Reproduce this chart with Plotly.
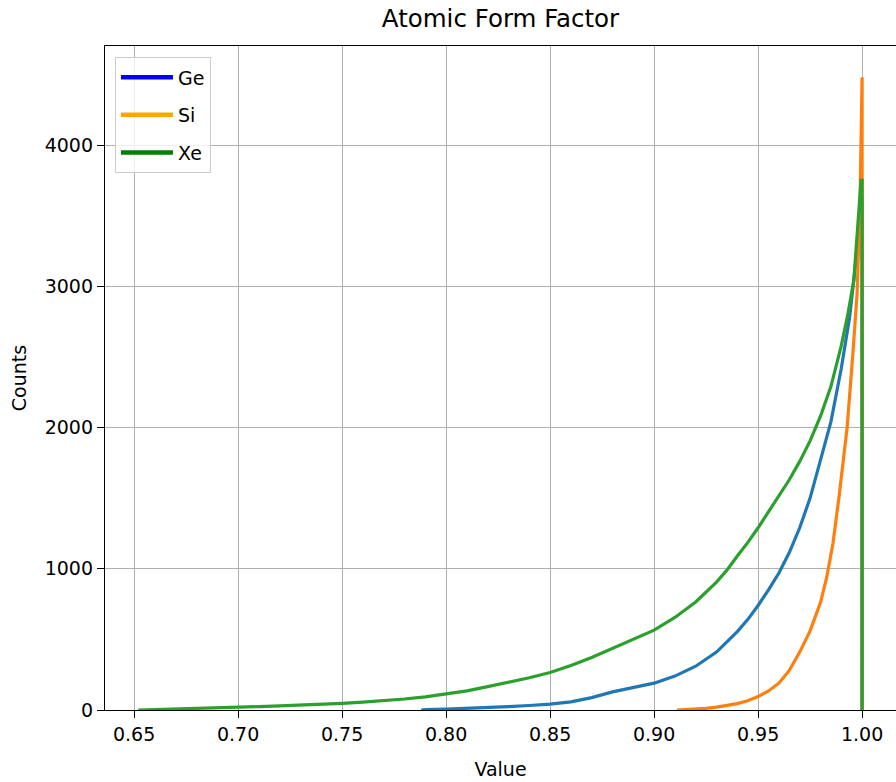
import plotly.graph_objects as go

# Histogram counts of the atomic form factor, read at selected bin positions
xe_x = [0.652, 0.655, 0.66, 0.67, 0.68, 0.69, 0.70, 0.71, 0.72, 0.73, 0.74, 0.75,
        0.76, 0.77, 0.78, 0.79, 0.80, 0.81, 0.82, 0.83, 0.84, 0.85, 0.86, 0.87,
        0.88, 0.89, 0.90, 0.91, 0.92, 0.93, 0.935, 0.94, 0.945, 0.95, 0.955, 0.96,
        0.965, 0.97, 0.975, 0.98, 0.985, 0.99, 0.993, 0.996, 0.998, 0.9995, 1.0, 1.0]
xe_y = [0, 1, 3, 6, 10, 14, 20, 24, 29, 34, 40, 47,
        56, 66, 78, 93, 112, 135, 165, 195, 228, 265, 315, 372,
        435, 500, 565, 655, 765, 905, 990, 1090, 1185, 1290, 1400, 1510,
        1630, 1760, 1905, 2080, 2290, 2580, 2790, 3040, 3480, 3750, 3750, 0]

ge_x = [0.788, 0.79, 0.80, 0.81, 0.82, 0.83, 0.84, 0.85, 0.86, 0.87, 0.88, 0.89,
        0.90, 0.91, 0.92, 0.93, 0.94, 0.945, 0.95, 0.955, 0.96, 0.965, 0.97, 0.975,
        0.98, 0.985, 0.99, 0.994, 0.9976, 0.999, 0.9997, 1.0, 1.0]
ge_y = [0, 2, 6, 11, 17, 24, 32, 42, 58, 88, 128, 160,
        190, 240, 310, 410, 555, 640, 740, 850, 970, 1115, 1290, 1500,
        1760, 2040, 2420, 2780, 3257, 3490, 3620, 3620, 0]

si_x = [0.911, 0.92, 0.925, 0.93, 0.935, 0.94, 0.945, 0.95, 0.955, 0.96, 0.965,
        0.97, 0.975, 0.98, 0.983, 0.986, 0.989, 0.9928, 0.9957, 0.9976, 0.999,
        0.9997, 1.0, 1.0]
si_y = [0, 6, 12, 20, 32, 45, 65, 95, 135, 190, 280,
        410, 560, 760, 940, 1180, 1520, 2000, 2549, 2952, 3600,
        4480, 4480, 0]

x_ticks = [0.65, 0.70, 0.75, 0.80, 0.85, 0.90, 0.95, 1.00]
y_ticks = [0, 1000, 2000, 3000, 4000]

series = [
    ("Ge", ge_x, ge_y, "#1f77b4", "blue"),
    ("Si", si_x, si_y, "#ff7f0e", "orange"),
    ("Xe", xe_x, xe_y, "#2ca02c", "green"),
]

FONT = "DejaVu Sans"

fig = go.Figure()

# histogram outlines
for name, xs, ys, color, _ in series:
    fig.add_trace(go.Scatter(
        x=xs, y=ys, mode="lines", name=name, showlegend=False,
        line=dict(color=color, width=3.2),
        hoverinfo="x+y",
    ))

# legend handles use the named colours
for i, (name, _, _, _, legend_color) in enumerate(series):
    fig.add_trace(go.Scatter(
        x=[None], y=[None], mode="lines", name=name, legendgroup=f"g{i}",
        line=dict(color=legend_color, width=4.5),
    ))

axis_common = dict(
    showgrid=True, gridcolor="#b0b0b0", gridwidth=1.2,
    showline=True, linecolor="black", linewidth=1.4,
    ticks="outside", ticklen=7, tickwidth=1.3, tickcolor="black",
    tickfont=dict(family=FONT, size=19, color="black"),
    zeroline=False,
)

fig.update_xaxes(
    **axis_common,
    range=[0.636, 1.0163],
    tickvals=x_ticks, tickformat=".2f",
    mirror=True,
    title=dict(text="Value", font=dict(family=FONT, size=19, color="black"), standoff=18),
)
fig.update_yaxes(
    **axis_common,
    range=[0, 4701],
    tickvals=y_ticks,
    title=dict(text="Counts", font=dict(family=FONT, size=19, color="black"), standoff=12),
)

fig.update_layout(
    width=896, height=782,
    margin=dict(l=105, r=0, t=46, b=72),
    paper_bgcolor="white", plot_bgcolor="white",
    title=dict(
        text="Atomic Form Factor",
        x=0.5, xref="paper", xanchor="center",
        y=1 - 18 / 782, yref="container", yanchor="middle",
        font=dict(family=FONT, size=24.5, color="black"),
    ),
    legend=dict(
        x=0.0126, y=0.983, xanchor="left", yanchor="top",
        bgcolor="rgba(255,255,255,0.8)", bordercolor="#cccccc", borderwidth=1,
        font=dict(family=FONT, size=19, color="black"),
        tracegroupgap=10, itemwidth=52,
    ),
    showlegend=True,
)

fig.write_html("out.html")
